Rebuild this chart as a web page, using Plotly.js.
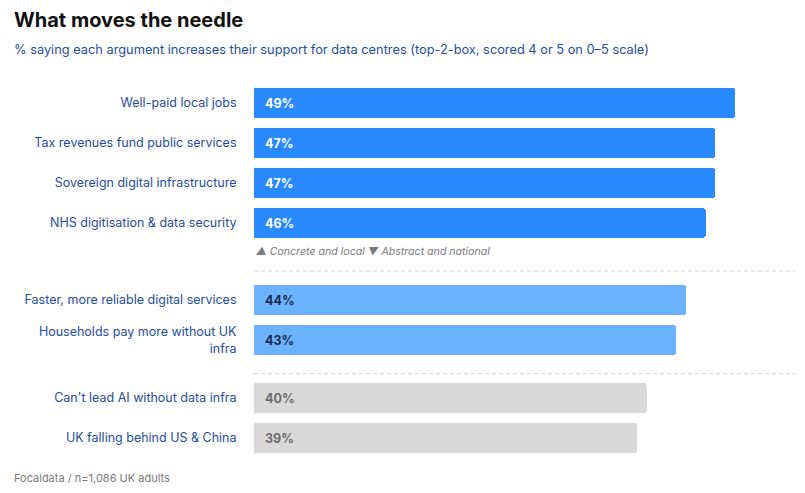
<!DOCTYPE html>
<html><head><meta charset="utf-8">
<script src="https://cdn.plot.ly/plotly-3.0.1.min.js"></script>
<style>html,body{margin:0;padding:0;background:#fff}</style>
</head><body><div id="chart" style="width:805px;height:493px"></div>
<script>
const categories = ["Well-paid local jobs","Tax revenues fund public services","Sovereign digital infrastructure","NHS digitisation & data security","Faster, more reliable digital services","Households pay more without UK<br>infra","Can't lead AI without data infra","UK falling behind US & China"];
const values = [49,47,47,46,44,43,40,39];
const groups = [0,0,0,0,1,1,2,2];
const groupColors = ["#2989FF","#6BB3FF","#D9D9D9"];
const labelColors = ["#FFFFFF","#1B2A4A","#6B6B6B"];
const legendNote = "▲ Concrete and local ▼ Abstract and national";
const title = "What moves the needle";
const subtitle = "% saying each argument increases their support for data centres (top-2-box, scored 4 or 5 on 0–5 scale)";
const source = "Focaldata / n=1,086 UK adults";

// layout positions (row units)
const groupGaps = [0, 0.925, 0.45];
const ypos = [];
let acc = 0;
for (let i = 0; i < values.length; i++) {
  if (i > 0 && groups[i] !== groups[i-1]) acc += groupGaps[groups[i]];
  ypos.push(i + acc);
}
const font = "Inter, 'Noto Sans', sans-serif";
const trace = {
  type: "bar", orientation: "h",
  x: values, y: ypos,
  width: 0.75,
  marker: {color: groups.map(g => groupColors[g]), cornerradius: 3, line: {width: 0}},
  hoverinfo: "skip"
};
const annotations = values.map((v, i) => ({
  x: 0, y: ypos[i], xref: "x", yref: "y", xanchor: "left", yanchor: "middle",
  xshift: 9, text: "<b>" + v + "%</b>", showarrow: false,
  font: {family: font, size: 12.5, color: labelColors[groups[i]]}
}));
const W = 541, H = 380;
annotations.push({x: 0, y: ypos[3] + 0.7, xref: "paper", yref: "y", xanchor: "left", yanchor: "middle",
  text: "<i>" + legendNote + "</i>", showarrow: false, font: {family: font, size: 10.6, color: "#7A7A7A"}});
annotations.push({x: -242/W, y: (460-20)/H, xref: "paper", yref: "paper", xanchor: "left", yanchor: "middle",
  text: "<b>" + title + "</b>", showarrow: false, font: {family: font, size: 20, color: "#111111"}});
annotations.push({x: -242/W, y: (460-49)/H, xref: "paper", yref: "paper", xanchor: "left", yanchor: "middle",
  text: subtitle, showarrow: false, font: {family: font, size: 12.8, color: "#1F4E9C"}});
annotations.push({x: -242/W, y: (460-478)/H, xref: "paper", yref: "paper", xanchor: "left", yanchor: "middle",
  text: source, showarrow: false, font: {family: font, size: 11, color: "#7A7A7A"}});

const shapes = [ypos[3] + 1.2, ypos[5] + 0.84].map(y => ({
  type: "line", xref: "paper", x0: 0, x1: 1, yref: "y", y0: y, y1: y,
  line: {color: "#D6D6D6", width: 1, dash: "4px,3px"}
}));

const layout = {
  width: 805, height: 493,
  margin: {l: 254, r: 10, t: 80, b: 33},
  paper_bgcolor: "#fff", plot_bgcolor: "#fff",
  showlegend: false,
  bargap: 0,
  xaxis: {range: [0, 55.1], visible: false, fixedrange: true},
  yaxis: {range: [-0.575 + 9.5, -0.575], tickvals: ypos, ticktext: categories,
    showgrid: false, zeroline: false, showline: false,
    ticks: "outside", ticklen: 14, tickcolor: "rgba(0,0,0,0)",
    tickfont: {family: font, size: 12.5, color: "#1F4E9C"}},
  annotations: annotations,
  shapes: shapes,
  font: {family: font}
};
Plotly.newPlot("chart", [trace], layout, {displayModeBar: false, staticPlot: true});
</script></body></html>
